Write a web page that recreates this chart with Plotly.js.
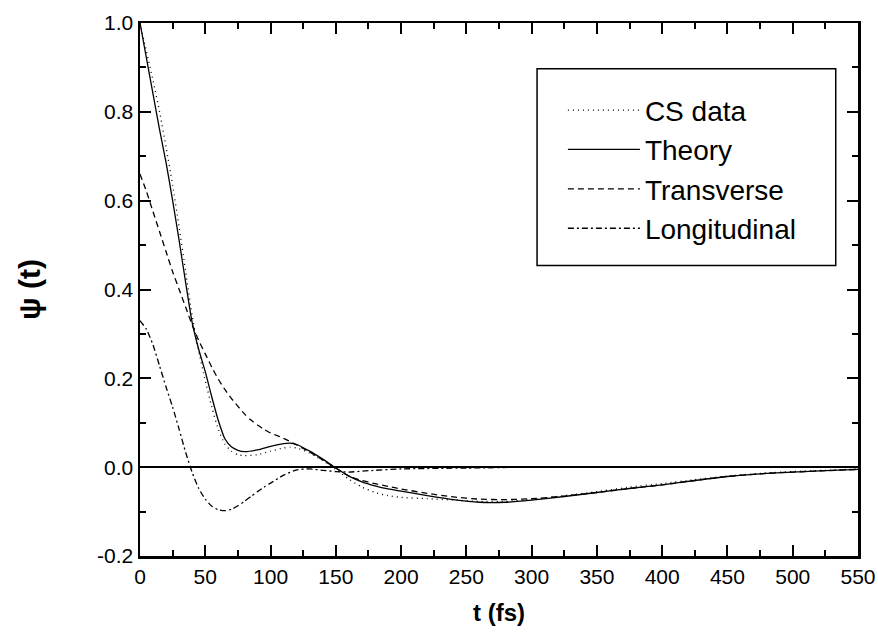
<!DOCTYPE html>
<html>
<head>
<meta charset="utf-8">
<script src="https://cdn.plot.ly/plotly-3.0.1.min.js"></script>
<style>html,body{margin:0;padding:0;background:#fff;}#chart{width:878px;height:634px;}</style>
</head>
<body>
<div id="chart"></div>
<script>
// time axis (fs)
var tCS = [0,5,10,15,20,25,30,35,40,45,50,55,60,65,70,75,80,90,100,110,115,120,130,140,150,160,170,180,190,200,220,240,260,280,300,325,350,375,400,425,450,475,500,525,550];
var csData = [1.0,0.935,0.87,0.80,0.72,0.635,0.54,0.44,0.34,0.26,0.195,0.135,0.085,0.052,0.036,0.028,0.026,0.028,0.036,0.043,0.045,0.043,0.032,0.015,-0.005,-0.027,-0.045,-0.057,-0.064,-0.068,-0.071,-0.074,-0.077,-0.077,-0.073,-0.064,-0.055,-0.045,-0.037,-0.028,-0.020,-0.014,-0.010,-0.007,-0.004];

var tTh = [0,5,10,15,20,25,30,35,40,45,50,55,60,65,70,75,80,90,100,110,115,120,130,140,150,160,170,180,190,200,220,240,260,280,300,325,350,375,400,425,450,475,500,525,550];
var theory = [1.0,0.92,0.84,0.76,0.685,0.60,0.51,0.415,0.325,0.265,0.215,0.158,0.105,0.064,0.046,0.038,0.035,0.039,0.047,0.053,0.054,0.051,0.036,0.018,-0.002,-0.020,-0.033,-0.042,-0.049,-0.054,-0.064,-0.073,-0.079,-0.079,-0.074,-0.066,-0.057,-0.048,-0.040,-0.030,-0.021,-0.015,-0.011,-0.008,-0.005];

var tTr = [0,5,10,15,20,25,30,35,40,45,50,55,60,65,70,75,80,85,90,95,100,110,120,130,140,150,160,170,180,190,200,220,240,260,280,300,325,350,375,400,425,450,475,500,525,550];
var transverse = [0.66,0.62,0.575,0.53,0.485,0.44,0.40,0.36,0.32,0.285,0.255,0.225,0.198,0.175,0.155,0.137,0.12,0.106,0.095,0.085,0.077,0.065,0.05,0.034,0.016,-0.002,-0.02,-0.03,-0.037,-0.043,-0.049,-0.059,-0.067,-0.072,-0.073,-0.071,-0.065,-0.057,-0.048,-0.040,-0.030,-0.021,-0.015,-0.011,-0.008,-0.005];

var tLo = [0,5,10,15,20,25,30,35,40,45,50,55,60,65,70,75,80,85,90,95,100,110,120,130,140,150,160,175,200,250,300,350,400,450,500,550];
var longitudinal = [0.33,0.31,0.275,0.228,0.18,0.135,0.085,0.033,-0.012,-0.048,-0.072,-0.088,-0.096,-0.098,-0.095,-0.087,-0.077,-0.066,-0.055,-0.045,-0.036,-0.018,-0.006,-0.004,-0.007,-0.010,-0.011,-0.008,-0.004,-0.002,0,0,0,0,0,0];

var seriesNames = ["CS data","Theory","Transverse","Longitudinal"];
var xTickVals = [0,50,100,150,200,250,300,350,400,450,500,550];
var yTickVals = [-0.2,0.0,0.2,0.4,0.6,0.8,1.0];
var yTickText = ["-0.2","0.0","0.2","0.4","0.6","0.8","1.0"];

var lw = 1.3;
var traces = [
  {x:tCS, y:csData, name:seriesNames[0], mode:"lines", line:{color:"#000", width:lw, dash:"1px,4px", shape:"spline", smoothing:0.6}},
  {x:tTh, y:theory, name:seriesNames[1], mode:"lines", line:{color:"#000", width:lw, shape:"spline", smoothing:0.6}},
  {x:tTr, y:transverse, name:seriesNames[2], mode:"lines", line:{color:"#000", width:lw, dash:"6px,4px", shape:"spline", smoothing:0.6}},
  {x:tLo, y:longitudinal, name:seriesNames[3], mode:"lines", line:{color:"#000", width:lw, dash:"6px,3px,2px,3px", shape:"spline", smoothing:0.6}}
];

var fam = "Liberation Sans, Arial, sans-serif";
var layout = {
  width:878, height:634,
  margin:{l:140, r:20, t:23, b:78},
  paper_bgcolor:"#fff", plot_bgcolor:"#fff",
  showlegend:true,
  legend:{x:0.589, y:0.883, xanchor:"left", yanchor:"top", borderwidth:0, bgcolor:"rgba(0,0,0,0)",
          font:{family:fam, size:28, color:"#000"}, itemwidth:72, tracegroupgap:0},
  shapes:[{type:"rect", xref:"paper", yref:"paper", x0:0.553, x1:0.969, y0:0.545, y1:0.914,
           line:{color:"#000", width:1.5}, fillcolor:"rgba(0,0,0,0)", layer:"above"}],
  xaxis:{range:[0,550], tickvals:xTickVals, ticks:"inside", ticklen:11, tickwidth:2, tickcolor:"#000",
         showline:true, linewidth:2.5, linecolor:"#000", mirror:"allticks", showgrid:false, zeroline:false,
         minor:{dtick:25, ticks:"inside", ticklen:6, tickwidth:2, tickcolor:"#000"},
         tickfont:{family:fam, size:21, color:"#000"},
         title:{text:"<b>t (fs)</b>", font:{family:fam, size:24, color:"#000"}, standoff:18}},
  yaxis:{range:[-0.2,1.0], tickvals:yTickVals, ticktext:yTickText, ticks:"inside", ticklen:11, tickwidth:2, tickcolor:"#000",
         showline:true, linewidth:2.5, linecolor:"#000", mirror:"allticks", showgrid:false,
         zeroline:true, zerolinewidth:2.5, zerolinecolor:"#000",
         minor:{dtick:0.1, ticks:"inside", ticklen:6, tickwidth:2, tickcolor:"#000"},
         tickfont:{family:fam, size:21, color:"#000"},
         title:{text:"<b>ψ (t)</b>", font:{family:fam, size:30, color:"#000"}, standoff:48}}
};

Plotly.newPlot("chart", traces, layout, {displayModeBar:false, staticPlot:true});
</script>
</body>
</html>
